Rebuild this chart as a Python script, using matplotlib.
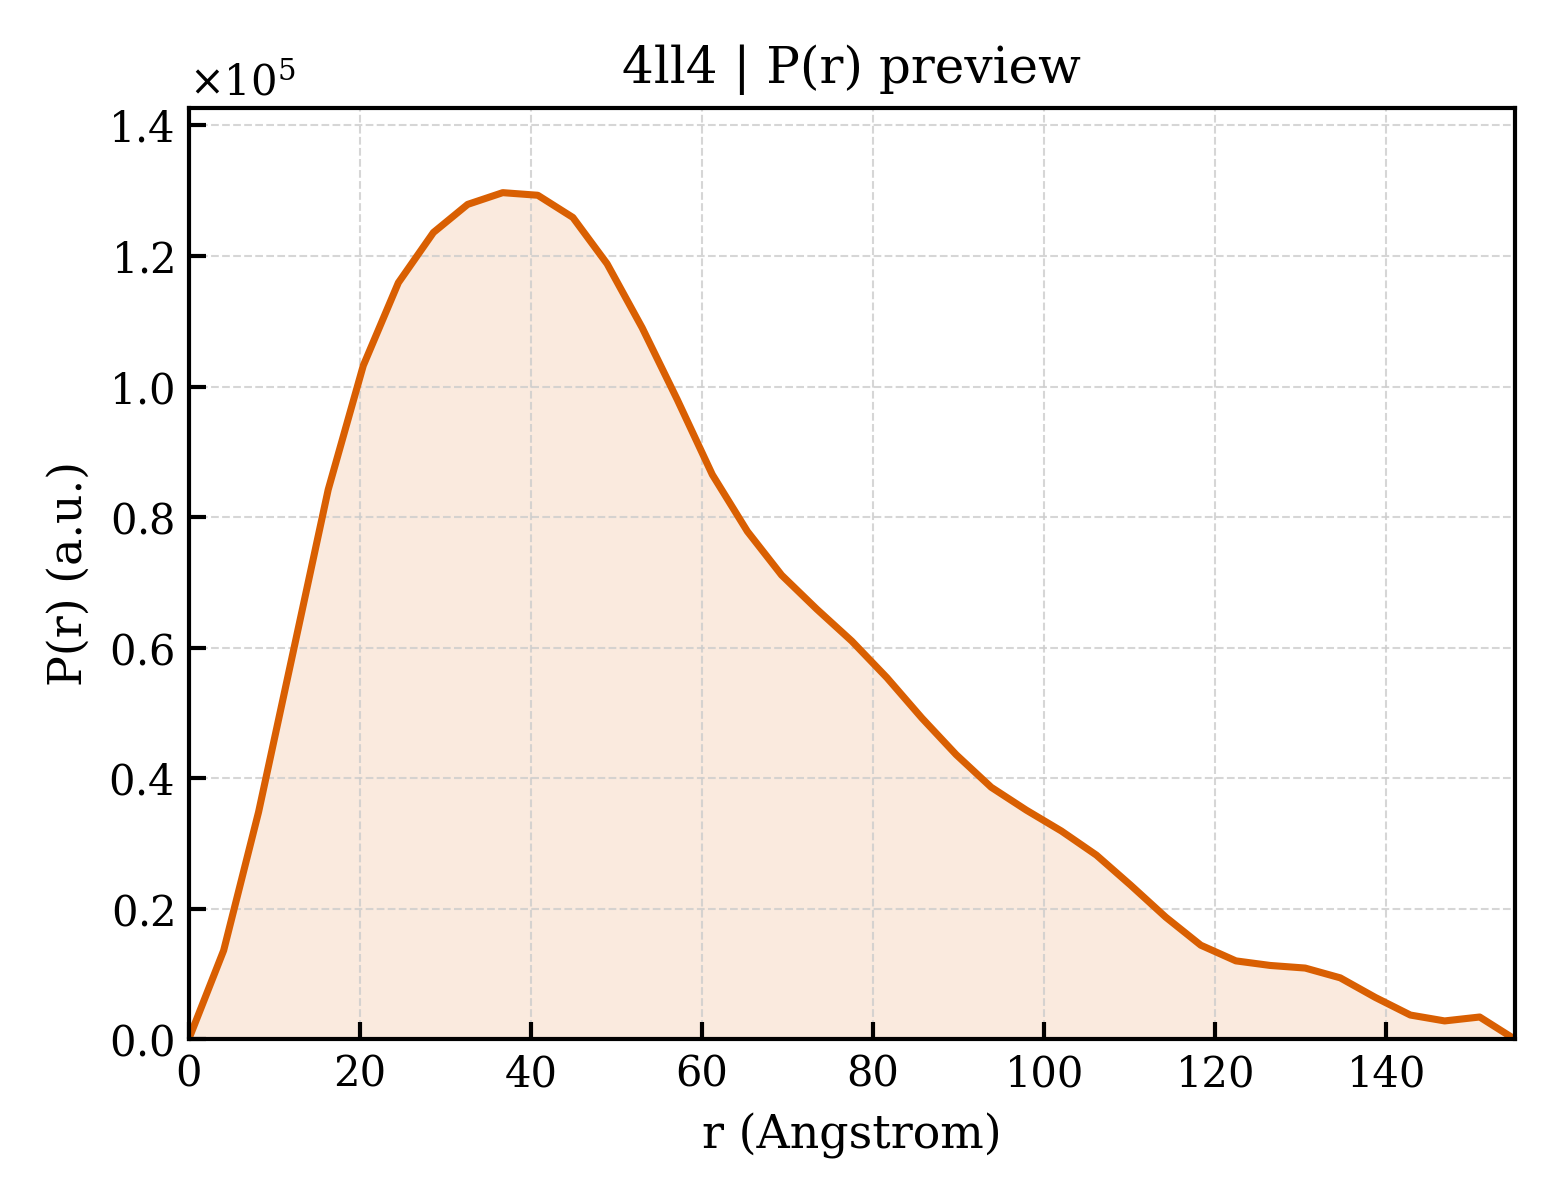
import matplotlib
matplotlib.use("Agg")
import matplotlib.pyplot as plt

plt.rcParams['font.family'] = 'DejaVu Serif'
plt.rcParams['mathtext.fontset'] = 'dejavuserif'

# P(r) distribution read from the preview
r = [0.0, 4.08, 8.16, 12.2, 16.3, 20.4, 24.5, 28.6, 32.6, 36.7, 40.8, 44.9,
     48.9, 53.0, 57.1, 61.2, 65.3, 69.3, 73.4, 77.5, 81.6, 85.7, 89.7, 93.8,
     97.9, 102.0, 106.1, 110.1, 114.2, 118.3, 122.4, 126.4, 130.5, 134.6,
     138.7, 142.8, 146.8, 150.9, 155.0]
pr = [0.0, 0.136, 0.348, 0.593, 0.842, 1.032, 1.159, 1.236, 1.279, 1.297,
      1.293, 1.259, 1.188, 1.090, 0.980, 0.865, 0.778, 0.711, 0.659, 0.610,
      0.554, 0.492, 0.436, 0.386, 0.351, 0.319, 0.282, 0.236, 0.187, 0.144,
      0.120, 0.113, 0.109, 0.094, 0.064, 0.037, 0.028, 0.034, 0.0]
pr = [v * 1e5 for v in pr]

color = '#d95f02'

fig = plt.figure(figsize=(5.2, 4), dpi=300)
ax = fig.add_axes([0.121, 0.134, 0.850, 0.776])

ax.fill_between(r, pr, 0, color=color, alpha=0.13, linewidth=0)
ax.plot(r, pr, color=color, linewidth=1.7)

ax.set_xlim(0, max(r))
ax.set_ylim(0, max(pr) * 1.1)
ax.set_xlabel('r (Angstrom)', fontsize=11)
ax.set_ylabel('P(r) (a.u.)', fontsize=11)
ax.set_title('4ll4 | P(r) preview', fontsize=12)

ax.ticklabel_format(axis='y', style='sci', scilimits=(0, 0), useMathText=True)
ax.tick_params(direction='in', labelsize=10, width=1, length=4)
ax.grid(True, linestyle='--', linewidth=0.5, color='#cccccc', alpha=0.8)
for s in ax.spines.values():
    s.set_linewidth(1.0)

fig.savefig('out.png', dpi=300)
